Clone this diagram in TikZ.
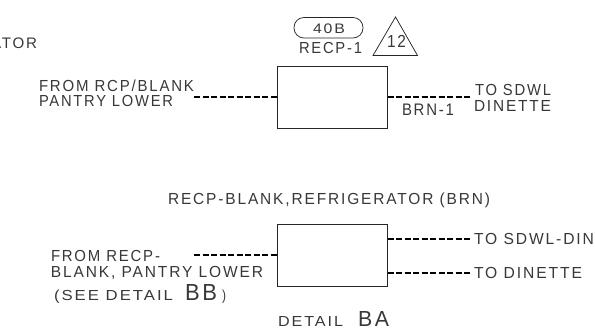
\documentclass[tikz,border=0pt]{standalone}
\usepackage{fontspec}
\usepackage{graphicx}
\setmainfont[LetterSpace=12]{Liberation Sans}
\newcommand\fitt[3]{\resizebox{#1pt}{#2pt}{\fontsize{15}{15}\selectfont\rule{0pt}{\fontcharht\font`H}\smash{#3}}}
\tikzset{
  lbl/.style={anchor=base west,inner sep=0pt,outer sep=0pt,text=black!78},
  devbox/.style={draw=black!85,line width=0.75pt,fill=white,minimum width=110.5pt,minimum height=62pt,inner sep=0pt,outer sep=0pt},
  wire/.style={draw=black,line width=2pt,dash pattern=on 6.3pt off 2.2pt},
  tagpill/.style={draw=black!85,line width=0.75pt,rounded corners=10pt,minimum width=69pt,minimum height=20.5pt,inner sep=0pt},
  tagtri/.style={draw=black!85,line width=0.75pt,line join=miter}
}
\begin{document}
\begin{tikzpicture}[x=1pt,y=-1pt]
\useasboundingbox (0,0) rectangle (595,328);
\clip (0,0) rectangle (595,328);
% top detail
\node[devbox] (boxA) at (332.25,97) {};
\coordinate (aL) at (194,97.5);
\coordinate (aR) at (472,97.5);
\coordinate (aLb) at (boxA.west |- aL);
\coordinate (aRb) at (boxA.east |- aR);
\draw[wire] (aL) -- (aLb);
\draw[wire] (aRb) -- (aR);
\node[lbl] (t0) at (-9,48.5) {\fitt{46}{10.5}{ATOR}};
\node[lbl] (t1) at (39,92) {\fitt{155}{11}{FROM RCP/BLANK}};
\node[lbl] (t2) at (39,107) {\fitt{134}{11}{PANTRY LOWER}};
\node[tagpill] (pill) at (328.5,27.75) {};
\node[lbl] (t3) at (313,33.5) {\fitt{32}{9.5}{40B}};
\node[lbl] (t4) at (299,54) {\fitt{63}{11}{RECP-1}};
\coordinate (triA) at (395.5,17);
\coordinate (triB) at (373,55.5);
\coordinate (triC) at (417.5,55.5);
\draw[tagtri] (triA) -- (triB) -- (triC) -- cycle;
\node[lbl] (t5) at (387,48) {\fitt{19}{12}{12}};
\node[lbl] (t6) at (402,116) {\fitt{52}{11.5}{BRN-1}};
\node[lbl] (t7) at (475,96) {\fitt{76}{11}{TO SDWL}};
\node[lbl] (t8) at (474,112) {\fitt{77}{11}{DINETTE}};
% bottom detail
\node[lbl] (t9) at (168,205) {\fitt{322}{11}{RECP-BLANK,REFRIGERATOR (BRN)}};
\node[devbox] (boxB) at (332.25,255.75) {};
\coordinate (bL) at (194,255.5);
\coordinate (bR1) at (472,238.7);
\coordinate (bR2) at (472,273);
\coordinate (bLb) at (boxB.west |- bL);
\coordinate (bR1b) at (boxB.east |- bR1);
\coordinate (bR2b) at (boxB.east |- bR2);
\draw[wire] (bL) -- (bLb);
\draw[wire] (bR1b) -- (bR1);
\draw[wire] (bR2b) -- (bR2);
\node[lbl] (t10) at (51,262) {\fitt{109}{11}{FROM RECP-}};
\node[lbl] (t11) at (51,278) {\fitt{212}{11}{BLANK, PANTRY LOWER}};
\node[lbl] (t12) at (54,301) {\fitt{119}{10}{(SEE DETAIL}};
\node[lbl] (t13) at (185,301) {\fitt{32}{16}{BB}};
\node[lbl] (t14) at (222,301) {\fitt{4}{10}{)}};
\node[lbl] (t15) at (474,244.5) {\fitt{120}{11}{TO SDWL-DIN}};
\node[lbl] (t16) at (474,279) {\fitt{108}{11}{TO DINETTE}};
\node[lbl] (t17) at (278,326.5) {\fitt{65}{10}{DETAIL}};
\node[lbl] (t18) at (358,326.5) {\fitt{31}{15}{BA}};
\end{tikzpicture}
\end{document}
